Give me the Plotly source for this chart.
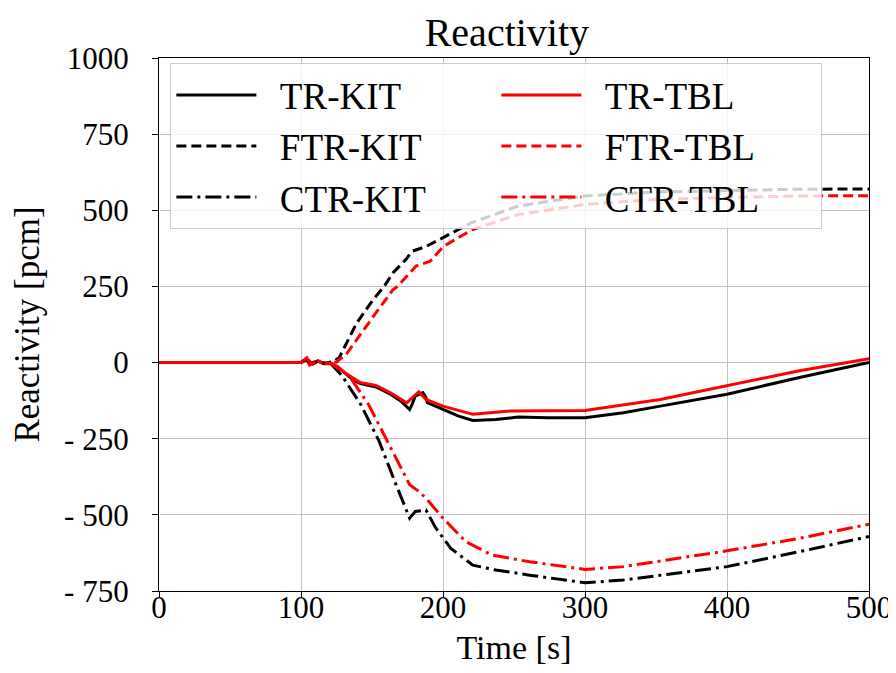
import plotly.graph_objects as go

# ---- data ----
t_tr_kit = [0, 100, 104, 106, 108, 112, 116, 121, 126, 131.7, 137, 142, 152.8, 163, 170, 176.5, 178, 180.5, 185.8, 188, 189,
            200, 211, 221, 237, 253, 274, 300, 327, 353, 400, 451, 500]
v_tr_kit = [0, 0, 12, -5, 0, 5, -3, -2, -15, -38, -58, -69, -80, -104, -125, -154, -140, -110, -99, -115, -132,
            -154, -176, -190, -187, -179, -181, -181, -165, -143, -104, -49, 0]

t_tr_tbl = [0, 100, 104, 106, 108, 112, 116, 121, 126, 131.7, 142, 152.8, 163, 174.4, 183, 188, 200, 221, 248, 300, 353, 400, 451, 500]
v_tr_tbl = [0, 0, 15, -8, -2, 6, -4, -3, -14, -36, -66, -75, -99, -132, -96, -121, -143, -170, -159, -157, -121, -75, -27, 13]

t_ftr_kit = [0, 100, 104, 108, 112, 116, 122.7, 127, 139, 150.7, 158.6, 164.7, 174, 178, 188, 198, 220.5, 253, 300, 350, 448, 500]
v_ftr_kit = [0, 0, 10, -4, 4, -2, 3, 17, 128, 206, 250, 294, 339, 365, 381, 405, 460, 514, 547, 560, 569, 570]

t_ftr_tbl = [0, 100, 104, 108, 112, 116, 125, 132, 150.7, 164.7, 168, 181, 191, 200.5, 220.5, 253, 300, 350, 448, 500]
v_ftr_tbl = [0, 0, 13, -5, 5, -3, 2, 28, 150, 239, 250, 317, 333, 382, 436, 486, 519, 536, 547, 548]

t_ctr_kit = [0, 100, 104, 108, 112, 116, 121, 129, 142, 155, 166, 176.5, 180.5, 188, 195, 205.5, 221, 237, 261, 300, 327, 400, 451, 500]
v_ctr_kit = [0, 0, 10, -4, 4, -2, -3, -44, -137, -258, -390, -511, -489, -484, -544, -610, -665, -681, -698, -723, -714, -670, -621, -571]

t_ctr_tbl = [0, 100, 104, 108, 112, 116, 121, 134, 147.5, 161, 176.5, 183, 188, 200, 216, 234.5, 261, 300, 327, 400, 451, 500]
v_ctr_tbl = [0, 0, 14, -6, 5, -3, -3, -44, -137, -258, -401, -423, -445, -511, -588, -632, -654, -679, -670, -618, -577, -531]

x_ticks = [0, 100, 200, 300, 400, 500]
y_ticks = [-750, -500, -250, 0, 250, 500, 750, 1000]
y_ticktext = ["- 750", "- 500", "- 250", "0", "250", "500", "750", "1000"]

series = [
    ("TR-KIT", t_tr_kit, v_tr_kit, "black", "solid"),
    ("TR-TBL", t_tr_tbl, v_tr_tbl, "red", "solid"),
    ("FTR-KIT", t_ftr_kit, v_ftr_kit, "black", "10px,5px"),
    ("FTR-TBL", t_ftr_tbl, v_ftr_tbl, "red", "10px,5px"),
    ("CTR-KIT", t_ctr_kit, v_ctr_kit, "black", "16px,5px,3px,5px"),
    ("CTR-TBL", t_ctr_tbl, v_ctr_tbl, "red", "16px,5px,3px,5px"),
]

FONT = "Liberation Serif"
NB = "\u00a0\u00a0"

fig = go.Figure()
for name, t, v, color, dash in series:
    fig.add_trace(go.Scatter(x=t, y=v, mode="lines", name=NB + name,
                             line=dict(color=color, width=3, dash=dash)))

fig.update_layout(
    width=896, height=673,
    margin=dict(l=151, r=31, t=50, b=90),
    paper_bgcolor="white", plot_bgcolor="white",
    font=dict(family=FONT, size=31, color="black"),
    title=dict(text="Reactivity", xref="paper", x=0.49, xanchor="center", y=0.965, yanchor="middle",
               font=dict(family=FONT, size=40)),
    legend=dict(orientation="h", x=0.016, y=0.99, xanchor="left", yanchor="top",
                entrywidth=230, entrywidthmode="pixels", itemwidth=80,
                bgcolor="rgba(255,255,255,0.8)", bordercolor="#cccccc", borderwidth=1,
                font=dict(family=FONT, size=37), traceorder="normal"),
    showlegend=True,
)
fig.update_xaxes(range=[0, 500], tickvals=x_ticks, ticklabelstandoff=-17,
                 tickfont=dict(family=FONT, size=31),
                 title=dict(text="Time [s]", standoff=10, font=dict(family=FONT, size=34)),
                 showgrid=True, gridcolor="#c0c0c0", gridwidth=1, zeroline=False,
                 showline=True, linecolor="black", linewidth=1.2, mirror=True,
                 ticks="outside", ticklen=6, tickcolor="black")
fig.update_yaxes(range=[-750, 1000], tickvals=y_ticks, ticktext=y_ticktext, ticklabelstandoff=17,
                 tickfont=dict(family=FONT, size=31),
                 title=dict(text="Reactivity [pcm]", standoff=14, font=dict(family=FONT, size=35)),
                 showgrid=True, gridcolor="#c0c0c0", gridwidth=1, zeroline=False,
                 showline=True, linecolor="black", linewidth=1.2, mirror=True,
                 ticks="outside", ticklen=6, tickcolor="black")

fig.write_html("out.html")
